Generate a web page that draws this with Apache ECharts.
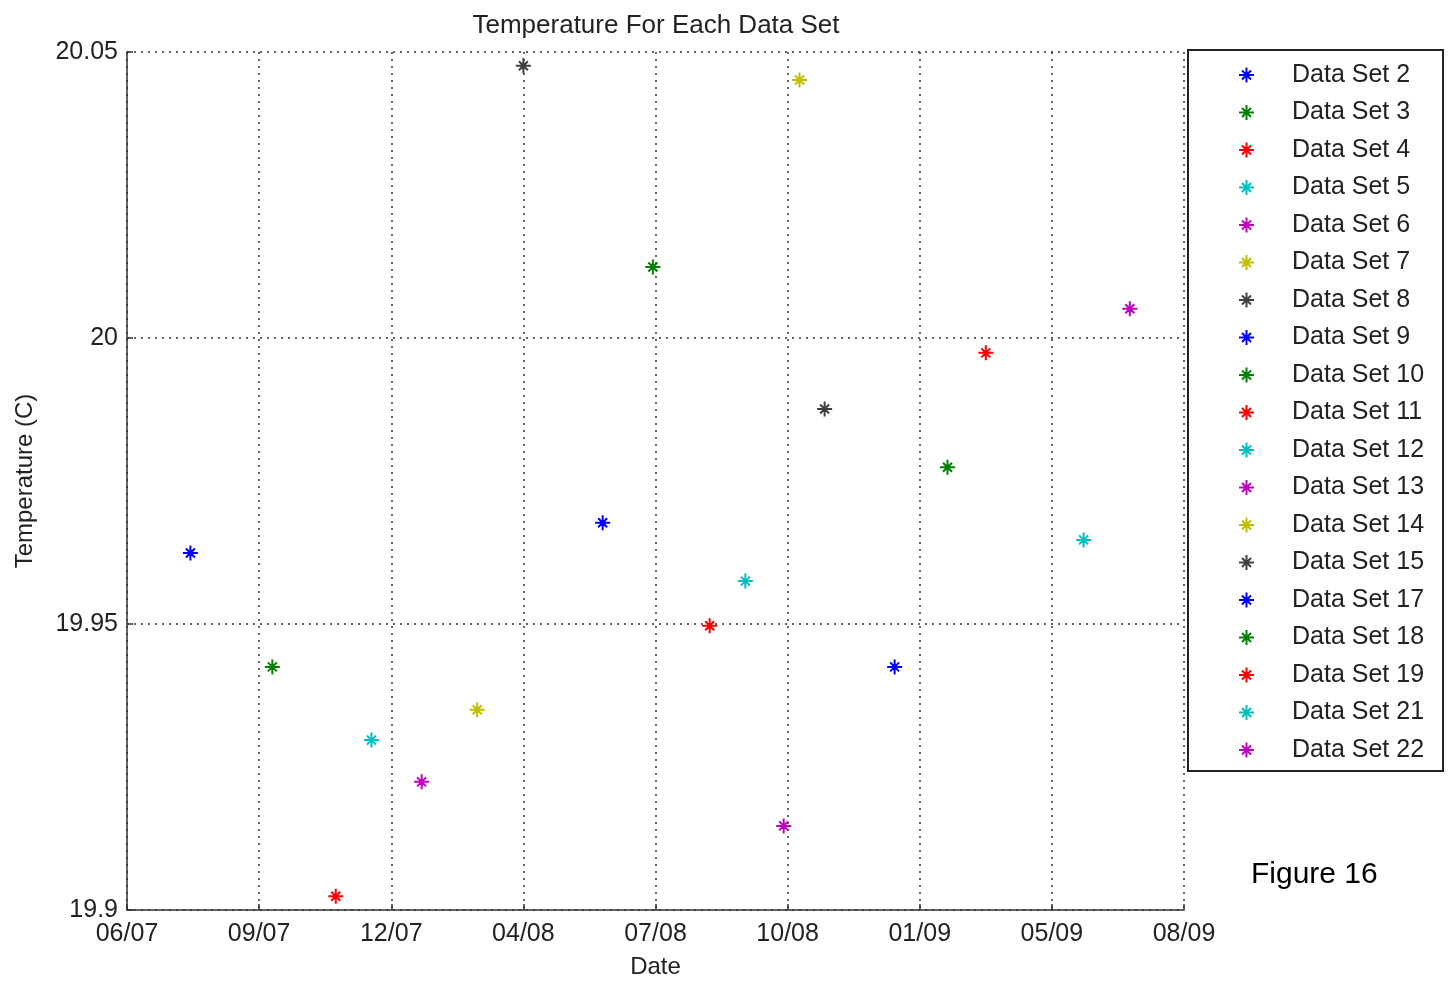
<!DOCTYPE html>
<html>
<head>
<meta charset="utf-8">
<title>Temperature For Each Data Set</title>
<script src="https://cdn.jsdelivr.net/npm/echarts@6/dist/echarts.min.js"></script>
<style>
  html, body { margin: 0; padding: 0; background: #fff; }
  #chart { width: 1455px; height: 981px; }
</style>
</head>
<body>
<div id="chart"></div>
<script>
// x positions are in tick units (0 = 06/07 ... 8 = 08/09)
const xTickLabels = ["06/07", "09/07", "12/07", "04/08", "07/08", "10/08", "01/09", "05/09", "08/09"];
const setNames = [
  "Data Set 2", "Data Set 3", "Data Set 4", "Data Set 5", "Data Set 6",
  "Data Set 7", "Data Set 8", "Data Set 9", "Data Set 10", "Data Set 11",
  "Data Set 12", "Data Set 13", "Data Set 14", "Data Set 15", "Data Set 17",
  "Data Set 18", "Data Set 19", "Data Set 21", "Data Set 22"
];
const setDates = [0.48, 1.10, 1.58, 1.85, 2.23, 2.65, 3.00, 3.60, 3.98, 4.41,
  4.68, 4.97, 5.09, 5.28, 5.81, 6.21, 6.50, 7.24, 7.59];
const setTemps = [19.9624, 19.9425, 19.9024, 19.9297, 19.9224, 19.935, 20.0476, 19.9677, 20.0124, 19.9497,
  19.9575, 19.9147, 20.0451, 19.9876, 19.9425, 19.9774, 19.9974, 19.9647, 20.0051];
// matlab default colour order
const colorOrder = ["#0000ff", "#008000", "#ff0000", "#00bfbf", "#bf00bf", "#bfbf00", "#404040"];

const starPath = "path://M10,0L10,20M0,10L20,10M4,4L16,16M4,16L16,4M8.5,8.5L11.5,8.5L11.5,11.5L8.5,11.5Z";
const font = "'Liberation Sans', Arial, Helvetica, sans-serif";

const myChart = echarts.init(document.getElementById("chart"));

const series = setNames.map((name, i) => ({
  name: name,
  type: "scatter",
  data: [[setDates[i], setTemps[i]]],
  symbol: starPath,
  symbolSize: 15,
  itemStyle: {
    color: colorOrder[i % colorOrder.length],
    borderColor: colorOrder[i % colorOrder.length],
    borderWidth: 2,
    opacity: 1,
  },
}));

const option = {
  animation: false,
  textStyle: { fontFamily: font, color: "#222" },
  title: {
    text: "Temperature For Each Data Set",
    left: 651,
    textAlign: "center",
    top: 8,
    textStyle: { fontSize: 26, fontWeight: "normal", color: "#222", fontFamily: font },
  },
  legend: {
    orient: "vertical",
    left: 1188,
    top: 50,
    padding: [12, 19, 8, 50],
    itemWidth: 15,
    itemHeight: 15,
    itemGap: 11.5,
    borderColor: "#222",
    borderWidth: 2,
    backgroundColor: "#fff",
    itemStyle: { borderWidth: 2, opacity: 1 },
    textStyle: { fontSize: 25, lineHeight: 26, color: "#222", padding: [0, 0, 0, 33] },
    data: setNames,
  },
  grid: {
    left: 127,
    right: 271,
    top: 52,
    bottom: 71,
    outerBoundsMode: "none",
  },
  xAxis: {
    type: "value",
    min: 0,
    max: 8,
    interval: 1,
    name: "Date",
    nameLocation: "middle",
    nameGap: 45,
    nameTextStyle: { fontSize: 24, color: "#222" },
    axisLine: { lineStyle: { color: "#333", width: 1.5 } },
    axisTick: { inside: true, length: 6, lineStyle: { color: "#333", width: 1.5 } },
    axisLabel: {
      fontSize: 25,
      color: "#222",
      margin: 12,
      formatter: (v) => xTickLabels[Math.round(v)],
    },
    splitLine: { show: true, lineStyle: { type: [2, 5], color: "#333", width: 1.5 } },
  },
  yAxis: {
    type: "value",
    min: 19.9,
    max: 20.05,
    interval: 0.05,
    name: "Temperature (C)",
    nameLocation: "middle",
    nameRotate: 90,
    nameGap: 90,
    nameTextStyle: { fontSize: 24, color: "#222" },
    axisLine: { show: true, lineStyle: { color: "#333", width: 1.5 } },
    axisTick: { show: true, inside: true, length: 6, lineStyle: { color: "#333", width: 1.5 } },
    axisLabel: { fontSize: 25, color: "#222", margin: 9 },
    splitLine: { show: true, lineStyle: { type: [2, 5], color: "#333", width: 1.5 } },
  },
  graphic: [
    {
      type: "text",
      left: 1251,
      top: 860,
      style: { text: "Figure 16", fontSize: 30, fill: "#000", fontFamily: font },
    },
  ],
  series: series,
};

myChart.setOption(option);
</script>
</body>
</html>
